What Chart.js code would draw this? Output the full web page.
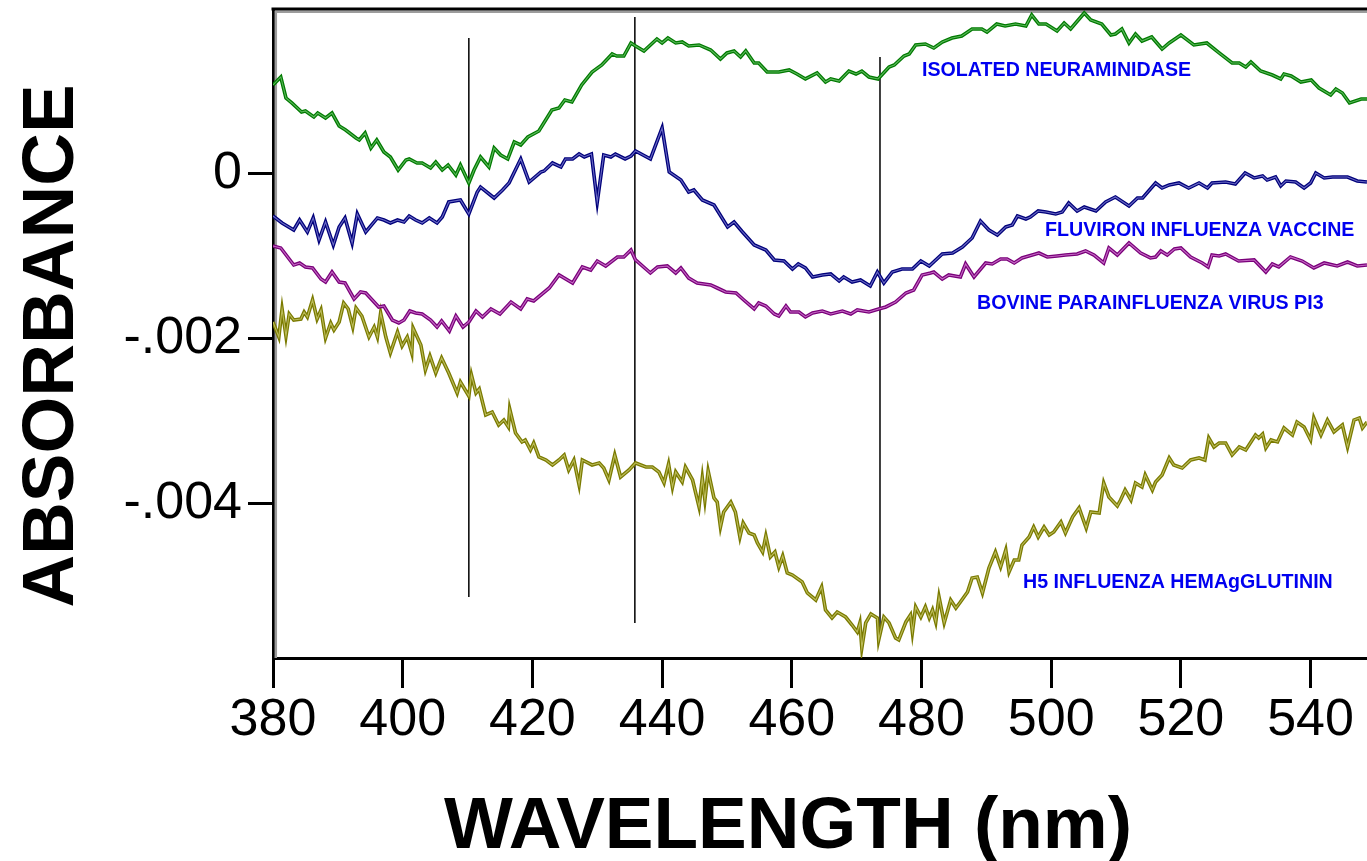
<!DOCTYPE html>
<html>
<head>
<meta charset="utf-8">
<title>Absorbance spectra</title>
<script src="https://cdn.jsdelivr.net/npm/chart.js@4.4.1/dist/chart.umd.min.js"></script>
<style>
  html, body { margin: 0; padding: 0; background: #fff; overflow: hidden; }
  canvas { display: block; }
</style>
</head>
<body>
<canvas id="spectra" width="1367" height="861"></canvas>
<script>
// wavelength (nm) / absorbance pairs
var neuraminidaseNm = [380.0,381.2,382.0,382.9,384.4,385.0,386.3,386.9,388.1,389.1,
  390.2,391.2,392.8,393.3,394.2,395.1,396.0,397.1,398.1,399.3,
  400.5,401.0,402.2,403.0,404.3,405.1,406.1,407.0,408.2,408.9,
  410.2,411.0,412.0,413.3,414.1,415.1,416.2,417.2,418.2,419.3,
  421.0,423.0,424.1,425.0,426.1,427.6,429.2,430.7,432.3,433.0,
  434.1,435.2,435.9,437.2,438.2,439.2,440.0,440.9,442.1,443.1,
  444.1,445.7,447.5,449.0,450.0,451.1,452.1,452.9,454.2,454.9,
  456.2,458.0,459.6,460.8,462.1,463.9,465.2,466.0,467.3,468.8,
  469.9,470.8,471.9,473.3,475.0,475.8,477.3,478.1,479.1,480.6,
  481.9,483.2,484.7,486.2,487.8,489.3,490.1,491.6,492.9,494.5,
  496.1,497.0,498.1,499.2,500.9,502.0,503.0,505.1,506.1,507.8,
  509.2,509.9,510.9,512.0,513.0,514.0,515.5,517.1,518.2,520.0,
  522.0,524.0,525.9,527.9,529.0,530.0,530.8,532.3,534.1,535.4,
  535.9,537.0,538.5,540.1,541.3,543.1,543.9,544.9,546.0,547.8,
  548.7];
var neuraminidaseAbs = [1.079e-3,1.176e-3,0.921e-3,0.861e-3,0.752e-3,0.764e-3,0.691e-3,0.739e-3,0.679e-3,0.739e-3,
  0.582e-3,0.533e-3,0.436e-3,0.412e-3,0.497e-3,0.315e-3,0.412e-3,0.267e-3,0.206e-3,0.048e-3,
  0.170e-3,0.182e-3,0.133e-3,0.133e-3,0.073e-3,0.145e-3,0.048e-3,0.109e-3,-0.012e-3,0.109e-3,
  -0.109e-3,0.048e-3,0.206e-3,0.085e-3,0.315e-3,0.230e-3,0.182e-3,0.388e-3,0.352e-3,0.448e-3,
  0.521e-3,0.776e-3,0.800e-3,0.897e-3,0.873e-3,1.079e-3,1.236e-3,1.321e-3,1.455e-3,1.430e-3,
  1.430e-3,1.588e-3,1.552e-3,1.491e-3,1.564e-3,1.636e-3,1.588e-3,1.648e-3,1.588e-3,1.600e-3,
  1.552e-3,1.564e-3,1.503e-3,1.394e-3,1.467e-3,1.491e-3,1.418e-3,1.491e-3,1.345e-3,1.345e-3,
  1.236e-3,1.236e-3,1.261e-3,1.212e-3,1.152e-3,1.224e-3,1.115e-3,1.152e-3,1.127e-3,1.248e-3,
  1.212e-3,1.248e-3,1.176e-3,1.152e-3,1.297e-3,1.321e-3,1.430e-3,1.455e-3,1.564e-3,1.576e-3,
  1.527e-3,1.600e-3,1.648e-3,1.673e-3,1.758e-3,1.758e-3,1.721e-3,1.818e-3,1.794e-3,1.818e-3,
  1.794e-3,1.927e-3,1.818e-3,1.818e-3,1.733e-3,1.830e-3,1.758e-3,1.952e-3,1.867e-3,1.818e-3,
  1.685e-3,1.697e-3,1.758e-3,1.588e-3,1.697e-3,1.612e-3,1.661e-3,1.515e-3,1.588e-3,1.685e-3,
  1.564e-3,1.588e-3,1.467e-3,1.345e-3,1.345e-3,1.297e-3,1.358e-3,1.248e-3,1.200e-3,1.152e-3,
  1.212e-3,1.188e-3,1.115e-3,1.139e-3,1.042e-3,0.958e-3,1.030e-3,0.982e-3,0.861e-3,0.909e-3,
  0.909e-3];

var fluvironNm = [380.0,381.4,383.2,384.1,385.3,386.2,387.1,388.1,389.3,390.2,
  391.1,392.2,393.0,394.3,396.1,397.1,398.1,399.2,400.2,401.0,
  402.0,403.0,404.1,405.3,406.1,407.1,408.9,410.2,411.5,412.0,
  414.1,415.4,416.4,418.2,419.5,421.3,421.8,423.1,424.4,425.1,
  426.2,427.2,428.0,429.1,430.0,431.0,432.1,432.8,434.3,435.2,
  435.9,438.2,440.0,441.1,442.9,444.1,444.9,446.2,448.0,450.1,
  451.1,452.4,454.2,456.0,457.3,458.8,460.1,461.0,462.1,463.2,
  464.7,466.0,467.3,468.0,469.3,470.6,472.1,473.2,474.2,475.5,
  477.0,478.6,479.9,481.2,483.2,484.8,486.3,487.8,489.1,490.4,
  491.7,493.0,494.0,494.8,496.1,496.8,498.0,499.2,500.7,501.7,
  502.7,504.0,505.1,506.9,508.4,509.9,512.0,513.3,514.1,516.1,
  517.1,518.2,519.7,521.2,522.8,524.1,524.8,526.9,528.4,529.9,
  531.3,532.6,533.3,534.6,535.4,536.2,537.7,539.0,540.0,540.8,
  542.1,543.4,545.7,547.2,548.7];
var fluvironAbs = [-0.509e-3,-0.594e-3,-0.679e-3,-0.558e-3,-0.703e-3,-0.533e-3,-0.800e-3,-0.582e-3,-0.861e-3,-0.642e-3,
  -0.533e-3,-0.836e-3,-0.485e-3,-0.703e-3,-0.533e-3,-0.558e-3,-0.594e-3,-0.558e-3,-0.582e-3,-0.509e-3,
  -0.558e-3,-0.594e-3,-0.533e-3,-0.594e-3,-0.521e-3,-0.339e-3,-0.315e-3,-0.485e-3,-0.218e-3,-0.158e-3,
  -0.291e-3,-0.194e-3,-0.109e-3,0.182e-3,-0.097e-3,0.024e-3,0.036e-3,0.133e-3,0.085e-3,0.182e-3,
  0.182e-3,0.242e-3,0.206e-3,0.242e-3,-0.339e-3,0.230e-3,0.206e-3,0.242e-3,0.182e-3,0.218e-3,
  0.279e-3,0.182e-3,0.558e-3,0.024e-3,-0.073e-3,-0.218e-3,-0.194e-3,-0.315e-3,-0.376e-3,-0.642e-3,
  -0.582e-3,-0.703e-3,-0.861e-3,-0.921e-3,-1.042e-3,-1.055e-3,-1.152e-3,-1.091e-3,-1.139e-3,-1.248e-3,
  -1.224e-3,-1.212e-3,-1.297e-3,-1.248e-3,-1.309e-3,-1.285e-3,-1.358e-3,-1.188e-3,-1.321e-3,-1.188e-3,
  -1.152e-3,-1.152e-3,-1.055e-3,-1.115e-3,-0.970e-3,-0.958e-3,-0.885e-3,-0.776e-3,-0.570e-3,-0.679e-3,
  -0.739e-3,-0.642e-3,-0.618e-3,-0.509e-3,-0.545e-3,-0.521e-3,-0.448e-3,-0.461e-3,-0.485e-3,-0.461e-3,
  -0.352e-3,-0.448e-3,-0.400e-3,-0.448e-3,-0.339e-3,-0.279e-3,-0.388e-3,-0.291e-3,-0.291e-3,-0.109e-3,
  -0.170e-3,-0.133e-3,-0.109e-3,-0.170e-3,-0.109e-3,-0.170e-3,-0.109e-3,-0.097e-3,-0.121e-3,0.012e-3,
  -0.048e-3,-0.024e-3,-0.073e-3,-0.036e-3,-0.145e-3,-0.085e-3,-0.097e-3,-0.170e-3,-0.109e-3,0.012e-3,
  -0.048e-3,-0.036e-3,-0.036e-3,-0.085e-3,-0.097e-3];

var bovinePi3Nm = [380.0,381.2,383.2,384.1,385.0,386.1,387.4,388.1,389.1,390.2,
  391.1,392.5,393.5,394.3,395.3,396.3,397.1,398.4,399.4,400.2,
  401.1,402.0,403.0,404.3,405.3,406.0,407.2,408.2,409.3,410.2,
  411.3,412.3,413.6,415.0,416.7,418.2,419.2,420.2,422.6,424.1,
  426.2,427.7,429.0,430.0,431.3,433.1,434.1,435.2,435.9,438.2,
  439.3,440.8,442.1,442.9,444.1,445.4,447.5,448.5,449.8,451.4,
  452.6,454.2,454.9,456.0,457.3,458.0,459.1,459.8,461.1,462.1,
  463.2,464.7,466.0,467.8,469.1,470.1,471.9,473.4,474.5,476.0,
  477.6,478.8,480.1,481.4,481.9,483.2,484.2,486.0,486.8,488.1,
  489.9,490.9,492.2,493.2,494.3,495.5,497.6,498.1,499.4,500.9,
  502.2,504.0,505.3,506.6,508.1,508.9,510.2,512.0,513.8,515.3,
  516.1,516.9,517.9,519.0,520.0,521.5,523.3,524.2,524.8,525.9,
  526.9,528.9,531.3,533.1,534.1,535.1,536.9,538.7,540.5,542.1,
  544.1,545.7,547.2,548.7];
var bovinePi3Abs = [-0.873e-3,-0.897e-3,-1.103e-3,-1.079e-3,-1.127e-3,-1.139e-3,-1.273e-3,-1.309e-3,-1.188e-3,-1.309e-3,
  -1.321e-3,-1.515e-3,-1.430e-3,-1.442e-3,-1.527e-3,-1.612e-3,-1.600e-3,-1.770e-3,-1.806e-3,-1.770e-3,
  -1.661e-3,-1.685e-3,-1.697e-3,-1.770e-3,-1.855e-3,-1.782e-3,-1.903e-3,-1.721e-3,-1.855e-3,-1.794e-3,
  -1.661e-3,-1.733e-3,-1.636e-3,-1.697e-3,-1.552e-3,-1.636e-3,-1.515e-3,-1.539e-3,-1.382e-3,-1.224e-3,
  -1.321e-3,-1.127e-3,-1.164e-3,-1.055e-3,-1.115e-3,-1.006e-3,-1.006e-3,-0.921e-3,-1.042e-3,-1.200e-3,
  -1.127e-3,-1.115e-3,-1.200e-3,-1.139e-3,-1.261e-3,-1.321e-3,-1.345e-3,-1.382e-3,-1.430e-3,-1.442e-3,
  -1.527e-3,-1.636e-3,-1.564e-3,-1.600e-3,-1.697e-3,-1.721e-3,-1.600e-3,-1.673e-3,-1.673e-3,-1.733e-3,
  -1.685e-3,-1.661e-3,-1.697e-3,-1.661e-3,-1.697e-3,-1.648e-3,-1.673e-3,-1.636e-3,-1.612e-3,-1.552e-3,
  -1.442e-3,-1.406e-3,-1.224e-3,-1.200e-3,-1.188e-3,-1.273e-3,-1.224e-3,-1.248e-3,-1.091e-3,-1.248e-3,
  -1.079e-3,-1.091e-3,-1.030e-3,-1.030e-3,-1.079e-3,-1.018e-3,-0.970e-3,-0.958e-3,-1.006e-3,-0.994e-3,
  -0.982e-3,-0.970e-3,-0.933e-3,-0.982e-3,-1.079e-3,-0.897e-3,-0.982e-3,-0.836e-3,-0.958e-3,-1.018e-3,
  -1.006e-3,-0.933e-3,-0.982e-3,-0.909e-3,-0.897e-3,-1.006e-3,-1.079e-3,-1.127e-3,-0.982e-3,-0.994e-3,
  -0.970e-3,-1.055e-3,-1.042e-3,-1.188e-3,-1.091e-3,-1.127e-3,-1.006e-3,-1.055e-3,-1.139e-3,-1.079e-3,
  -1.115e-3,-1.067e-3,-1.115e-3,-1.103e-3];

var h5Nm = [380.0,380.9,381.4,382.0,382.5,383.2,384.3,384.8,385.3,386.1,
  386.8,387.4,388.1,388.9,389.4,390.2,390.9,391.6,392.3,392.8,
  393.7,394.8,395.6,396.1,396.6,397.4,398.1,399.2,399.9,400.7,
  401.4,401.6,402.8,403.5,404.2,405.1,406.0,407.1,408.4,408.9,
  410.2,410.6,411.3,411.8,412.8,413.8,414.8,415.6,416.3,416.5,
  417.4,418.4,418.9,419.7,420.2,421.0,422.1,423.1,424.1,424.9,
  425.6,426.4,427.2,427.7,429.2,430.3,431.0,431.8,432.7,433.6,
  434.9,435.9,437.5,438.5,439.5,440.3,441.0,441.6,442.1,443.1,
  443.6,444.7,445.7,446.2,446.6,447.1,448.0,448.5,449.0,449.5,
  450.6,451.3,452.0,452.5,453.4,454.2,454.7,455.5,456.0,456.7,
  457.4,458.0,458.6,459.3,460.1,461.6,462.4,463.7,464.6,465.2,
  466.2,467.0,468.3,469.3,470.1,470.5,470.8,471.4,472.2,473.2,
  473.4,474.2,475.0,476.0,476.5,477.6,478.3,478.6,479.1,479.9,
  480.6,481.2,481.7,482.2,482.7,483.5,484.5,485.3,486.0,487.1,
  487.8,488.6,489.4,490.4,491.4,492.2,493.0,493.5,494.3,495.0,
  495.5,496.6,497.3,498.0,498.9,499.7,500.4,501.5,502.2,503.3,
  504.3,505.4,506.1,507.4,508.1,508.9,510.2,510.7,511.4,512.3,
  513.0,514.0,514.5,515.6,516.1,517.1,518.2,518.9,520.2,521.5,
  522.8,523.7,524.3,525.1,525.9,526.9,527.9,529.0,530.0,530.8,
  531.5,532.0,532.6,533.1,533.9,534.9,535.9,537.2,537.9,539.0,
  540.0,540.5,541.6,542.6,543.6,544.9,545.7,546.7,547.5,548.0,
  548.7];
var h5Abs = [-1.794e-3,-1.976e-3,-1.636e-3,-1.964e-3,-1.697e-3,-1.770e-3,-1.758e-3,-1.673e-3,-1.733e-3,-1.527e-3,
  -1.758e-3,-1.648e-3,-1.988e-3,-1.806e-3,-1.891e-3,-1.794e-3,-1.564e-3,-1.636e-3,-1.855e-3,-1.624e-3,
  -1.721e-3,-1.976e-3,-1.855e-3,-1.976e-3,-1.685e-3,-1.976e-3,-2.170e-3,-1.915e-3,-2.085e-3,-1.976e-3,
  -2.170e-3,-1.867e-3,-2.073e-3,-2.376e-3,-2.206e-3,-2.412e-3,-2.230e-3,-2.412e-3,-2.655e-3,-2.521e-3,
  -2.691e-3,-2.436e-3,-2.655e-3,-2.606e-3,-2.921e-3,-2.885e-3,-3.042e-3,-2.982e-3,-3.067e-3,-2.848e-3,
  -3.139e-3,-3.248e-3,-3.224e-3,-3.345e-3,-3.261e-3,-3.430e-3,-3.467e-3,-3.527e-3,-3.467e-3,-3.406e-3,
  -3.588e-3,-3.467e-3,-3.770e-3,-3.467e-3,-3.527e-3,-3.503e-3,-3.564e-3,-3.709e-3,-3.406e-3,-3.673e-3,
  -3.588e-3,-3.503e-3,-3.552e-3,-3.552e-3,-3.612e-3,-3.745e-3,-3.515e-3,-3.794e-3,-3.612e-3,-3.733e-3,
  -3.552e-3,-3.709e-3,-4.036e-3,-3.685e-3,-3.952e-3,-3.600e-3,-3.927e-3,-3.976e-3,-4.279e-3,-4.097e-3,
  -3.976e-3,-4.097e-3,-4.400e-3,-4.230e-3,-4.352e-3,-4.376e-3,-4.473e-3,-4.582e-3,-4.388e-3,-4.642e-3,
  -4.582e-3,-4.764e-3,-4.630e-3,-4.836e-3,-4.861e-3,-4.945e-3,-5.079e-3,-5.164e-3,-5.006e-3,-5.285e-3,
  -5.382e-3,-5.309e-3,-5.370e-3,-5.467e-3,-5.552e-3,-5.442e-3,-5.745e-3,-5.442e-3,-5.333e-3,-5.382e-3,
  -5.648e-3,-5.370e-3,-5.442e-3,-5.624e-3,-5.648e-3,-5.430e-3,-5.345e-3,-5.552e-3,-5.248e-3,-5.370e-3,
  -5.248e-3,-5.382e-3,-5.285e-3,-5.430e-3,-5.127e-3,-5.442e-3,-5.164e-3,-5.261e-3,-5.188e-3,-5.067e-3,
  -4.897e-3,-4.885e-3,-5.079e-3,-4.776e-3,-4.582e-3,-4.764e-3,-4.558e-3,-4.824e-3,-4.679e-3,-4.679e-3,
  -4.497e-3,-4.400e-3,-4.279e-3,-4.400e-3,-4.279e-3,-4.376e-3,-4.339e-3,-4.218e-3,-4.352e-3,-4.158e-3,
  -4.048e-3,-4.291e-3,-4.097e-3,-4.109e-3,-3.745e-3,-3.915e-3,-4.024e-3,-3.952e-3,-3.830e-3,-3.952e-3,
  -3.745e-3,-3.794e-3,-3.648e-3,-3.830e-3,-3.733e-3,-3.648e-3,-3.442e-3,-3.527e-3,-3.564e-3,-3.467e-3,
  -3.442e-3,-3.467e-3,-3.200e-3,-3.309e-3,-3.261e-3,-3.261e-3,-3.406e-3,-3.309e-3,-3.345e-3,-3.248e-3,
  -3.164e-3,-3.200e-3,-3.152e-3,-3.321e-3,-3.224e-3,-3.248e-3,-3.079e-3,-3.164e-3,-3.006e-3,-3.067e-3,
  -3.224e-3,-2.958e-3,-3.164e-3,-2.982e-3,-3.127e-3,-3.042e-3,-3.309e-3,-2.982e-3,-2.958e-3,-3.079e-3,
  -3.006e-3];

var seriesNames = ['ISOLATED NEURAMINIDASE', 'FLUVIRON INFLUENZA VACCINE',
  'BOVINE PARAINFLUENZA VIRUS PI3', 'H5 INFLUENZA HEMAgGLUTININ'];

// vertical marker lines
var markerNm = [410.2, 435.8, 473.6];
var markerTop = [1.648e-3, 1.903e-3, 1.418e-3];
var markerBottom = [-5.127e-3, -5.442e-3, -5.527e-3];

var xTicks = [380, 400, 420, 440, 460, 480, 500, 520, 540];
var yTicks = [-0.004, -0.002, 0];
var yTickLabels = ['-.004', '-.002', '0'];

var FONT = 'Arial, "Liberation Sans", sans-serif';

function pairs(xs, ys) {
  return xs.map(function (x, i) { return { x: x, y: ys[i] }; });
}

var series = [
  { nm: neuraminidaseNm, abs: neuraminidaseAbs, dark: '#007a00', light: '#5cb85c', label: [922, 76] },
  { nm: fluvironNm, abs: fluvironAbs, dark: '#00007a', light: '#6a6ac4', label: [1045, 236] },
  { nm: bovinePi3Nm, abs: bovinePi3Abs, dark: '#7a007a', light: '#c46ac4', label: [977, 309] },
  { nm: h5Nm, abs: h5Abs, dark: '#7a7a00', light: '#bcbc5a', label: [1023, 588] }
];

var datasets = [];
series.forEach(function (s, i) {
  var pts = pairs(s.nm, s.abs);
  // thin light core on top of a darker stroke gives the doubled-line look
  datasets.push({ label: seriesNames[i], data: pts, borderColor: s.light, borderWidth: 1.1, pointRadius: 0, order: 0 });
  datasets.push({ label: seriesNames[i], data: pts, borderColor: s.dark, borderWidth: 3.6, pointRadius: 0, order: 1 });
});
markerNm.forEach(function (x, i) {
  datasets.push({
    label: 'marker ' + x,
    data: [{ x: x, y: markerTop[i] }, { x: x, y: markerBottom[i] }],
    borderColor: '#000', borderWidth: 1.5, pointRadius: 0, order: 2
  });
});

var decorations = {
  id: 'decorations',
  beforeDatasetsDraw: function (chart) {
    var ctx = chart.ctx, a = chart.chartArea;
    ctx.save();
    ctx.strokeStyle = '#9c9c9c';
    ctx.lineWidth = 2.5;
    ctx.beginPath();
    ctx.moveTo(a.left + 2.8, a.bottom);
    ctx.lineTo(a.left + 2.8, a.top + 2.8);
    ctx.lineTo(a.right, a.top + 2.8);
    ctx.stroke();
    ctx.restore();
  },
  afterDraw: function (chart) {
    var ctx = chart.ctx, a = chart.chartArea;
    ctx.save();
    // top edge of the frame
    ctx.strokeStyle = '#000';
    ctx.lineWidth = 3;
    ctx.beginPath();
    ctx.moveTo(a.left - 1.5, a.top);
    ctx.lineTo(a.right, a.top);
    ctx.stroke();

    // series names
    ctx.fillStyle = '#0000f0';
    ctx.font = 'bold 21px ' + FONT;
    ctx.textBaseline = 'alphabetic';
    ctx.textAlign = 'left';
    series.forEach(function (s, i) {
      ctx.save();
      ctx.translate(s.label[0], s.label[1]);
      ctx.scale(0.935, 1);
      ctx.fillText(seriesNames[i], 0, 0);
      ctx.restore();
    });

    // axis titles
    ctx.fillStyle = '#000';
    ctx.font = 'bold 73px ' + FONT;
    ctx.textAlign = 'center';
    ctx.fillText('WAVELENGTH (nm)', 788, 848);
    ctx.translate(73, 346);
    ctx.rotate(-Math.PI / 2);
    ctx.fillText('ABSORBANCE', 0, 0);
    ctx.restore();
  }
};

new Chart(document.getElementById('spectra'), {
  type: 'line',
  data: { datasets: datasets },
  plugins: [decorations],
  options: {
    responsive: false,
    animation: false,
    events: [],
    layout: { padding: { top: 9, right: 0, bottom: 0, left: 0 } },
    plugins: { legend: { display: false }, tooltip: { enabled: false } },
    elements: { line: { tension: 0, fill: false } },
    scales: {
      x: {
        type: 'linear',
        min: 380,
        max: 548.7,
        afterBuildTicks: function (s) { s.ticks = xTicks.map(function (v) { return { value: v }; }); },
        afterFit: function (s) { s.height = 203; s.paddingLeft = 0; s.paddingRight = 0; },
        ticks: {
          autoSkip: false, maxRotation: 0, padding: 7, color: '#000',
          font: { family: FONT, size: 52, lineHeight: 1 },
          callback: function (v) { return String(v); }
        },
        grid: { drawOnChartArea: false, tickLength: 30, tickWidth: 3, tickColor: '#000' },
        border: { color: '#000', width: 3 }
      },
      y: {
        type: 'linear',
        min: -5.867e-3,
        max: 2.0e-3,
        afterBuildTicks: function (s) { s.ticks = yTicks.map(function (v) { return { value: v }; }); },
        afterFit: function (s) { s.width = 273; s.paddingTop = 0; s.paddingBottom = 0; },
        ticks: {
          padding: 6, color: '#000',
          font: { family: FONT, size: 52, lineHeight: 1 },
          callback: function (v, i) { return yTickLabels[i]; }
        },
        grid: { drawOnChartArea: false, tickLength: 25, tickWidth: 3, tickColor: '#000' },
        border: { color: '#000', width: 3 }
      }
    }
  }
});
</script>
</body>
</html>
